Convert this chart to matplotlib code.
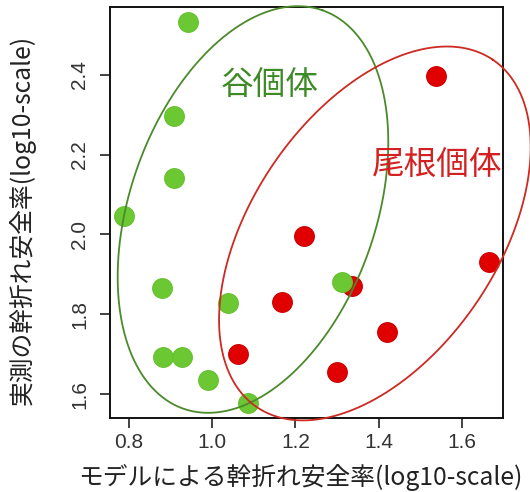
import numpy as np
import matplotlib
matplotlib.use('Agg')
import matplotlib.pyplot as plt

# Data (log10 scale safety factors)
valley_x = [0.942, 0.908, 0.909, 0.788, 0.879, 1.038, 0.882, 0.927, 0.990, 1.086, 1.312]
valley_y = [2.532, 2.297, 2.142, 2.045, 1.867, 1.827, 1.692, 1.692, 1.635, 1.577, 1.880]
ridge_x = [1.538, 1.221, 1.062, 1.168, 1.336, 1.420, 1.300, 1.665]
ridge_y = [2.397, 1.995, 1.700, 1.830, 1.870, 1.755, 1.655, 1.932]

xticks = [0.8, 1.0, 1.2, 1.4, 1.6]
yticks = [1.6, 1.8, 2.0, 2.2, 2.4]
xlabel = 'モデルによる幹折れ安全率(log10-scale)'
ylabel = '実測の幹折れ安全率(log10-scale)'
valley_label = '谷個体'
ridge_label = '尾根個体'

plt.rcParams['font.family'] = ['Noto Sans CJK JP', 'DejaVu Sans']

W, H = 530, 492
fig = plt.figure(figsize=(W / 100, H / 100), dpi=100)
L, R, T, B = 110, 503, 7, 418
ax = fig.add_axes([L / W, 1 - B / H, (R - L) / W, (B - T) / H])
xlim = (0.7543, 1.699)
ylim = (1.54, 2.57)
ax.set_xlim(xlim)
ax.set_ylim(ylim)

green_pt = '#6cc832'
red_pt = '#e00000'

ax.plot(ridge_x, ridge_y, 'o', ms=14.2, color=red_pt, mec='#cc0000', mew=0.8, zorder=3)
ax.plot(valley_x, valley_y, 'o', ms=14.2, color=green_pt, mec='#66c030', mew=0.8, zorder=4)

# annotation ellipses (drawn in pixel space, converted to data units)
sx = (R - L) / (xlim[1] - xlim[0])
sy = (B - T) / (ylim[1] - ylim[0])
t = np.linspace(0, 2 * np.pi, 500)

def draw_ellipse(cx, cy, a, b, ang, color):
    th = np.deg2rad(ang)
    u = a * np.cos(t) * np.cos(th) - b * np.sin(t) * np.sin(th)
    v = a * np.cos(t) * np.sin(th) + b * np.sin(t) * np.cos(th)
    ax.plot(cx + u / sx, cy + v / sy, color=color, lw=1.3, clip_on=False, zorder=5)

draw_ellipse(1.098, 2.0625, 211, 123, 70.8, '#4b8a2a')
draw_ellipse(1.391, 2.0025, 210, 123, 55.8, '#cc2a22')

ax.text(1.137, 2.372, valley_label, color='#3d8a26', fontsize=23.5, ha='center', va='center', zorder=6)
ax.text(1.540, 2.175, ridge_label, color='#d42020', fontsize=23.5, ha='center', va='center', zorder=6)

ax.set_xticks(xticks)
ax.set_yticks(yticks)
ax.set_xticklabels([f'{v:.1f}' for v in xticks], family='Liberation Sans', fontsize=15, color='#333333')
ax.set_yticklabels([f'{v:.1f}' for v in yticks], family='Liberation Sans', fontsize=15, color='#333333',
                   rotation=90, va='center')
ax.tick_params(axis='both', direction='out', length=7, width=1.2, color='#222222')
ax.tick_params(axis='x', pad=4)
ax.tick_params(axis='y', pad=8)
for s in ax.spines.values():
    s.set_linewidth(1.4)
    s.set_color('#111111')

fig.text(300 / W, 1 - 477 / H, xlabel, fontsize=17.8, ha='center', va='center', color='#222222')
fig.text(22 / W, 1 - 220 / H, ylabel, fontsize=17.8, ha='center', va='center', rotation=90, color='#222222')

fig.savefig('out.png', dpi=100)
